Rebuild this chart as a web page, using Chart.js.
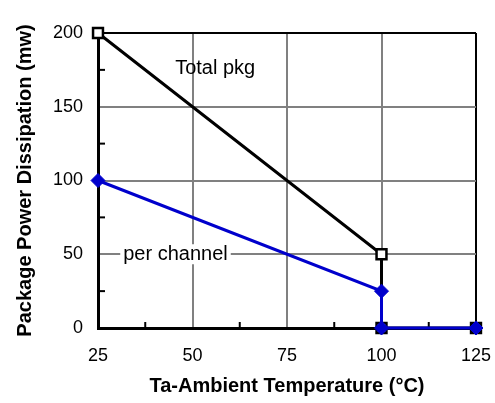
<!DOCTYPE html>
<html>
<head>
<meta charset="utf-8">
<script src="https://cdn.jsdelivr.net/npm/chart.js@4.4.1/dist/chart.umd.min.js"></script>
<style>
  html, body { margin: 0; padding: 0; background: #fff; }
  #wrap { width: 495px; height: 403px; }
</style>
</head>
<body>
<div id="wrap"><canvas id="myChart"></canvas></div>
<script>
var totalX = [25, 100, 100, 125];
var totalY = [200, 50, 0, 0];
var chanX = [25, 100, 100, 125];
var chanY = [100, 25, 0, 0];
var xMinor = [37.5, 62.5, 87.5, 112.5];
var yMinor = [25, 75, 125, 175];
var notes = [
  { text: 'Total pkg', x: 56, y: 176, box: false },
  { text: 'per channel', x: 45.5, y: 50, box: true }
];

function pts(xs, ys) {
  return xs.map(function (x, i) { return { x: x, y: ys[i] }; });
}

var FONT = '"Liberation Sans", Arial, sans-serif';

var extras = {
  id: 'extras',
  beforeDatasetsDraw: function (chart) {
    var ctx = chart.ctx, xs = chart.scales.x, ys = chart.scales.y;
    ctx.save();
    // minor ticks, inside the plot
    ctx.strokeStyle = '#000';
    ctx.lineWidth = 2;
    xMinor.forEach(function (v) {
      var px = xs.getPixelForValue(v);
      ctx.beginPath();
      ctx.moveTo(px, ys.bottom);
      ctx.lineTo(px, ys.bottom - 6);
      ctx.stroke();
    });
    yMinor.forEach(function (v) {
      var py = ys.getPixelForValue(v);
      ctx.beginPath();
      ctx.moveTo(xs.left, py);
      ctx.lineTo(xs.left + 7, py);
      ctx.stroke();
    });
    // text notes
    ctx.font = '20px ' + FONT;
    ctx.textBaseline = 'middle';
    ctx.textAlign = 'center';
    notes.forEach(function (n) {
      var px = xs.getPixelForValue(n.x), py = ys.getPixelForValue(n.y);
      if (n.box) {
        var w = ctx.measureText(n.text).width + 6;
        ctx.fillStyle = '#fff';
        ctx.fillRect(px - w / 2, py - 10, w, 20);
      }
      ctx.fillStyle = '#000';
      ctx.fillText(n.text, px, py);
    });
    ctx.restore();
  }
};

var mixedChart = new Chart('myChart', {
  type: 'scatter',
  data: {
    datasets: [{
      label: 'per channel',
      data: pts(chanX, chanY),
      showLine: true,
      clip: false,
      borderColor: '#0000cc',
      backgroundColor: '#0000cc',
      borderWidth: 3,
      pointStyle: 'rectRot',
      pointRadius: 7,
      pointBorderWidth: 1,
      order: 1
    }, {
      label: 'Total pkg',
      data: pts(totalX, totalY),
      showLine: true,
      clip: false,
      borderColor: '#000',
      backgroundColor: '#fff',
      borderWidth: 3,
      pointStyle: 'rect',
      pointRadius: 7,
      pointBorderWidth: 2.5,
      order: 2
    }]
  },
  options: {
    responsive: true,
    maintainAspectRatio: false,
    animation: false,
    layout: { padding: { top: 33, right: 19, left: 0, bottom: 0 } },
    plugins: { legend: { display: false }, tooltip: { enabled: false } },
    scales: {
      x: {
        type: 'linear', min: 25, max: 125,
        afterFit: function (s) { s.height = 75; s.paddingRight = 0; s.paddingLeft = 0; },
        ticks: { stepSize: 25, color: '#000', padding: 17, font: { family: FONT, size: 18 } },
        grid: {
          drawTicks: false, lineWidth: 2,
          color: function (c) {
            var v = c.tick ? c.tick.value : null;
            if (v === 125) return '#000';
            if (v === 25) return 'rgba(0,0,0,0)';
            return '#808080';
          }
        },
        border: { color: '#000', width: 3 },
        title: { display: true, text: 'Ta-Ambient Temperature (°C)', color: '#000', font: { family: FONT, size: 20, weight: 'bold' }, padding: { top: 0, bottom: 5 } }
      },
      y: {
        min: 0, max: 200,
        afterFit: function (s) { s.width = 98; s.paddingTop = 0; s.paddingBottom = 0; },
        ticks: { stepSize: 50, color: '#000', padding: 15, font: { family: FONT, size: 18 } },
        grid: {
          drawTicks: false, lineWidth: 2,
          color: function (c) {
            var v = c.tick ? c.tick.value : null;
            if (v === 200) return '#000';
            if (v === 0) return 'rgba(0,0,0,0)';
            return '#808080';
          }
        },
        border: { color: '#000', width: 3 },
        title: { display: true, text: 'Package Power Dissipation (mw)', color: '#000', font: { family: FONT, size: 20, weight: 'bold' }, padding: { top: 13, bottom: 0 } }
      }
    }
  },
  plugins: [extras]
});
</script>
</body>
</html>
